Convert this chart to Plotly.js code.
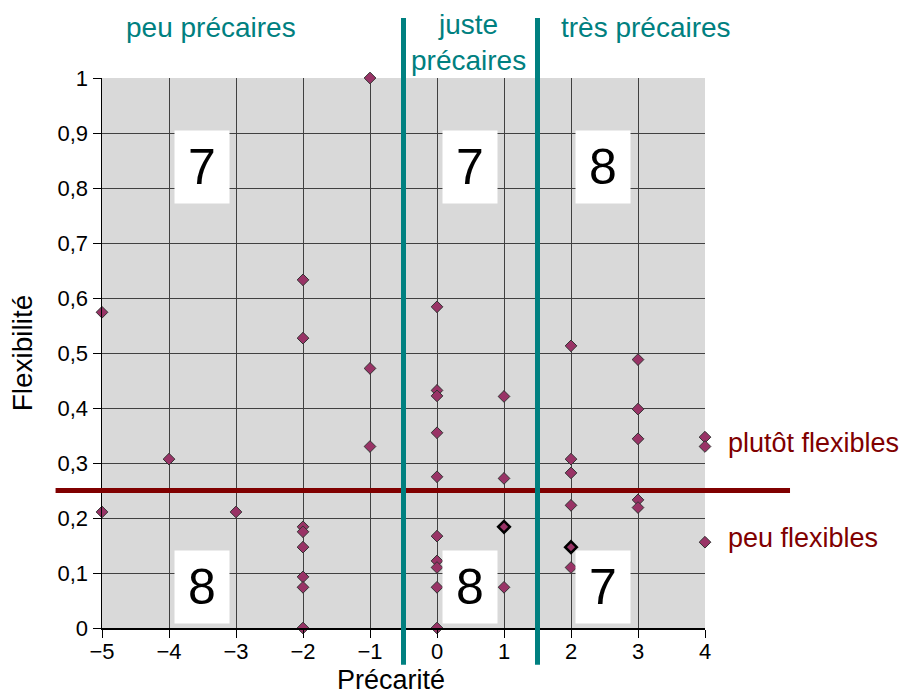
<!DOCTYPE html>
<html>
<head>
<meta charset="utf-8">
<script src="https://cdn.plot.ly/plotly-3.0.1.min.js"></script>
<style>
    html, body { margin: 0; padding: 0; background: #fff; }
    #chart { width: 910px; height: 697px; }
</style>
</head>
<body>
<div id="chart"></div>
<script>
// Précarité (x) / Flexibilité (y) for each person
const precarite = [
    -5, -5,
    -4,
    -3,
    -2, -2, -2, -2, -2, -2, -2, -2,
    -1, -1, -1,
    0, 0, 0, 0, 0, 0, 0, 0, 0, 0,
    1, 1, 1,
    2, 2, 2, 2, 2,
    3, 3, 3, 3, 3,
    4, 4, 4
];
const flexibilite = [
    0.574, 0.211,
    0.307,
    0.211,
    0.633, 0.527, 0.184, 0.175, 0.147, 0.093, 0.074, 0,
    1.0, 0.472, 0.330,
    0.584, 0.432, 0.422, 0.355, 0.275, 0.167, 0.122, 0.110, 0.074, 0,
    0.421, 0.272, 0.074,
    0.513, 0.307, 0.282, 0.223, 0.110,
    0.488, 0.398, 0.344, 0.233, 0.219,
    0.347, 0.330, 0.156
];
// the two points drawn with a heavy outline
const highlightX = [1, 2];
const highlightY = [0.184, 0.147];

// group separators
const precariteCuts = [-0.5, 1.5];
const flexibiliteCut = 0.25;

const groupLabels = ['peu précaires', 'juste<br>précaires', 'très précaires'];
const flexLabels = ['plutôt flexibles', 'peu flexibles'];
// counts written in each cell (top row, bottom row), left to right
const countsTop = ['7', '7', '8'];
const countsBottom = ['8', '8', '7'];

const teal = '#008080';
const darkRed = '#800000';
const font = 'Liberation Sans, Arial, sans-serif';

const pointTrace = {
    x: precarite,
    y: flexibilite,
    type: 'scatter',
    mode: 'markers',
    cliponaxis: false,
    marker: { symbol: 'diamond', size: 9, color: '#993366', line: { color: '#333333', width: 1 } },
    hoverinfo: 'x+y',
};
const highlightTrace = {
    x: highlightX,
    y: highlightY,
    type: 'scatter',
    mode: 'markers',
    cliponaxis: false,
    marker: { symbol: 'diamond', size: 9, color: '#993366', line: { color: '#000000', width: 2.5 } },
    hoverinfo: 'x+y',
};

// layout positions (plot area: x -5..4, y 0..1)
const groupX = [-3.38, 0.47, 3.12];
const groupY = [1.091, 1.065, 1.091];
const cellX = [-3.51, 0.49, 2.48];
const cellTopY = 0.839;
const cellBottomY = 0.0745;
const flexY = [0.336, 0.164];

const annotations = [];
groupLabels.forEach((t, i) => annotations.push({
    text: t, xref: 'x', yref: 'paper', x: groupX[i], y: groupY[i],
    xanchor: 'center', yanchor: 'middle', showarrow: false,
    font: { family: font, size: 28, color: teal },
}));
flexLabels.forEach((t, i) => annotations.push({
    text: t, xref: 'paper', yref: 'y', x: 1.034, y: flexY[i],
    xanchor: 'left', yanchor: 'middle', showarrow: false,
    font: { family: font, size: 27, color: darkRed },
}));
[[countsTop, cellTopY], [countsBottom, cellBottomY]].forEach(([counts, cy]) => {
    counts.forEach((c, i) => annotations.push({
        text: c, xref: 'x', yref: 'y', x: cellX[i], y: cy,
        xanchor: 'center', yanchor: 'middle', showarrow: false,
        bgcolor: '#ffffff', width: 52, height: 70, borderpad: 1,
        font: { family: font, size: 50, color: '#000000' },
    }));
});
// x axis title, placed a little left of centre as in the original
annotations.push({
    text: 'Précarité', xref: 'paper', yref: 'paper', x: 0.48, y: -0.1245,
    xanchor: 'center', yanchor: 'bottom', showarrow: false, borderpad: 0,
    font: { family: font, size: 27, color: '#000000' },
});

const shapes = [
    {
        type: 'line', xref: 'paper', yref: 'y', x0: -0.077, x1: 1.141,
        y0: flexibiliteCut, y1: flexibiliteCut, layer: 'above',
        line: { color: darkRed, width: 5 },
    },
    ...precariteCuts.map(c => ({
        type: 'line', xref: 'x', yref: 'paper', x0: c, x1: c,
        y0: -0.067, y1: 1.109, layer: 'above',
        line: { color: teal, width: 5 },
    })),
];

const axisCommon = {
    showgrid: true,
    gridcolor: '#404040',
    gridwidth: 1,
    zeroline: false,
    showline: true,
    linecolor: '#000000',
    linewidth: 1.5,
    ticks: 'outside',
    ticklen: 8,
    tickcolor: '#000000',
    tickfont: { family: font, size: 22, color: '#000000' },
    fixedrange: true,
};

const layout = {
    width: 910,
    height: 697,
    margin: { l: 102, r: 205, t: 78, b: 69 },
    paper_bgcolor: '#ffffff',
    plot_bgcolor: '#d9d9d9',
    separators: ', ',
    showlegend: false,
    font: { family: font, color: '#000000' },
    xaxis: {
        ...axisCommon,
        range: [-5, 4],
        tick0: 0,
        dtick: 1,
        ticklabelstandoff: -5,
    },
    yaxis: {
        ...axisCommon,
        range: [0, 1],
        tick0: 0,
        dtick: 0.1,
        title: { text: 'Flexibilité', font: { family: font, size: 28 }, standoff: 16 },
    },
    shapes,
    annotations,
};

Plotly.newPlot('chart', [pointTrace, highlightTrace], layout, { displayModeBar: false, staticPlot: true });
</script>
</body>
</html>
